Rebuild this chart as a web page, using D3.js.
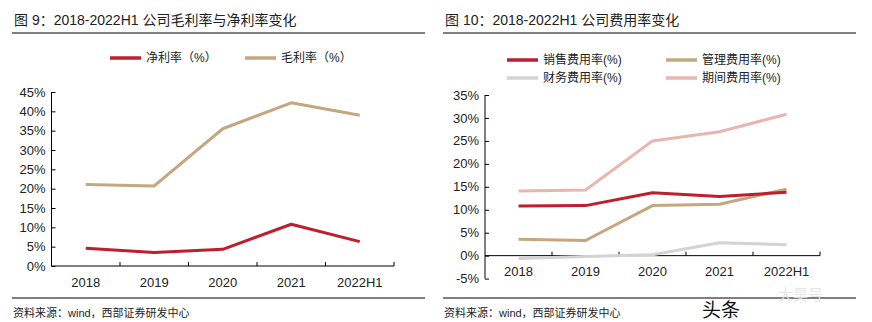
<!DOCTYPE html>
<html>
<head>
<meta charset="utf-8">
<script src="https://cdn.jsdelivr.net/npm/d3@7"></script>
<style>
    body { margin: 0; background: #fff; }
    svg text { font-family: Arial, "Liberation Sans", "Noto Sans CJK SC", sans-serif; fill: #222; }
    .cn { font-family: Arial, "Liberation Sans", "Noto Sans CJK SC", sans-serif; }
</style>
</head>
<body>
<svg id="chart" width="872" height="322"></svg>
<script>
// categories shared by both panels
var years = ["2018", "2019", "2020", "2021", "2022H1"];

// panel 1: margins (%)
var netMargin = [4.6, 3.5, 4.3, 10.8, 6.3];
var grossMargin = [21.1, 20.7, 35.5, 42.2, 39.0];
var leftTicks = [0, 5, 10, 15, 20, 25, 30, 35, 40, 45];

// panel 2: expense ratios (%)
var salesRate = [10.8, 10.9, 13.7, 12.9, 13.8];
var adminRate = [3.6, 3.3, 10.9, 11.2, 14.5];
var financeRate = [-0.6, -0.2, 0.2, 2.8, 2.4];
var periodRate = [14.1, 14.3, 25.0, 27.0, 30.8];
var rightTicks = [-5, 0, 5, 10, 15, 20, 25, 30, 35];

var RED = "#be1e2d", TAN = "#c3a77f", GREY = "#d3d3d3", PINK = "#e9b6af";

var svg = d3.select("#chart");

// title, rules and source note for each panel
function frame(x0, x1, title) {
    svg.append("text").attr("class", "cn")
        .attr("x", x0 + 2).attr("y", 25)
        .style("font-size", "14px")
        .text(title);
    svg.append("line").attr("x1", x0).attr("x2", x1).attr("y1", 33).attr("y2", 33)
        .attr("stroke", "#000").attr("stroke-width", 1.2);
    svg.append("line").attr("x1", x0).attr("x2", x1).attr("y1", 298).attr("y2", 298)
        .attr("stroke", "#000").attr("stroke-width", 1.2);
    svg.append("text").attr("class", "cn")
        .attr("x", x0 + 1).attr("y", 317)
        .style("font-size", "11px")
        .text("资料来源：wind，西部证券研发中心");
}

function drawPanel(opt) {
    var x = d3.scaleBand().domain(years).range(opt.xRange);
    var y = d3.scaleLinear().domain(opt.yDomain).range(opt.yRange);
    var g = svg.append("g");

    // y axis with inward ticks
    var yAxis = g.append("g")
        .attr("transform", "translate(" + opt.xRange[0] + ",0)")
        .call(d3.axisRight(y).tickValues(opt.ticks).tickSize(4).tickFormat(function(d) { return d + "%"; }));
    yAxis.select(".domain").remove();
    yAxis.selectAll("text").remove();
    yAxis.selectAll("line").attr("stroke", "#000");
    g.append("line")
        .attr("x1", opt.xRange[0]).attr("x2", opt.xRange[0])
        .attr("y1", opt.yRange[1]).attr("y2", opt.yRange[0])
        .attr("stroke", "#000");
    g.selectAll(".ylab").data(opt.ticks).enter().append("text")
        .attr("x", opt.xRange[0] - 6).attr("y", function(d) { return y(d); })
        .attr("dy", "0.35em").attr("text-anchor", "end")
        .style("font-size", "13px")
        .text(function(d) { return d + "%"; });

    // x axis sits on zero, ticks at band edges pointing up
    var y0 = y(0);
    g.append("line")
        .attr("x1", opt.xRange[0]).attr("x2", opt.xRange[1])
        .attr("y1", y0).attr("y2", y0).attr("stroke", "#000");
    var edges = years.map(function(d) { return x(d); }).concat([opt.xRange[1]]);
    g.selectAll(".xt").data(edges.slice(1)).enter().append("line")
        .attr("x1", function(d) { return d; }).attr("x2", function(d) { return d; })
        .attr("y1", y0).attr("y2", y0 - 4).attr("stroke", "#000");
    g.selectAll(".xlab").data(years).enter().append("text")
        .attr("x", function(d) { return x(d) + x.bandwidth() / 2; })
        .attr("y", opt.labelY).attr("dy", "0.35em").attr("text-anchor", "middle")
        .style("font-size", "13px")
        .text(function(d) { return d; });

    var line = d3.line()
        .x(function(d, i) { return x(years[i]) + x.bandwidth() / 2; })
        .y(function(d) { return y(d); });

    opt.series.forEach(function(s) {
        g.append("path").datum(s.values)
            .attr("d", line)
            .attr("fill", "none")
            .attr("stroke", s.color)
            .attr("stroke-width", 3)
            .attr("stroke-linejoin", "round");
    });

    // legend
    opt.series.forEach(function(s) {
        g.append("line")
            .attr("x1", s.lx).attr("x2", s.lx + 31)
            .attr("y1", s.ly).attr("y2", s.ly)
            .attr("stroke", s.color).attr("stroke-width", 3.5);
        g.append("text").attr("class", "cn")
            .attr("x", s.lx + 36).attr("y", s.ly).attr("dy", "0.35em")
            .style("font-size", "12px")
            .text(s.name);
    });
}

frame(12, 425, "图 9：2018-2022H1 公司毛利率与净利率变化");
frame(443, 856, "图 10：2018-2022H1 公司费用率变化");

drawPanel({
    xRange: [51.5, 394],
    yDomain: [0, 45],
    yRange: [266, 92],
    ticks: leftTicks,
    labelY: 282,
    series: [
        { name: "净利率（%）", values: netMargin, color: RED, lx: 110, ly: 58 },
        { name: "毛利率（%）", values: grossMargin, color: TAN, lx: 245, ly: 58 }
    ]
});

drawPanel({
    xRange: [485, 820],
    yDomain: [-5, 35],
    yRange: [278.6, 95],
    ticks: rightTicks,
    labelY: 271,
    series: [
        { name: "财务费用率(%)", values: financeRate, color: GREY, lx: 507, ly: 78 },
        { name: "期间费用率(%)", values: periodRate, color: PINK, lx: 666, ly: 78 },
        { name: "管理费用率(%)", values: adminRate, color: TAN, lx: 666, ly: 60 },
        { name: "销售费用率(%)", values: salesRate, color: RED, lx: 507, ly: 60 }
    ]
});

// platform mark in the lower right corner
svg.append("text").attr("class", "cn")
    .attr("x", 702).attr("y", 317)
    .style("font-size", "19px").style("fill", "#111")
    .text("头条");
svg.append("text").attr("class", "cn")
    .attr("x", 778).attr("y", 300)
    .style("font-size", "15px").style("fill", "#e4e4e4")
    .style("opacity", 0.9)
    .text("大昊号");
</script>
</body>
</html>
